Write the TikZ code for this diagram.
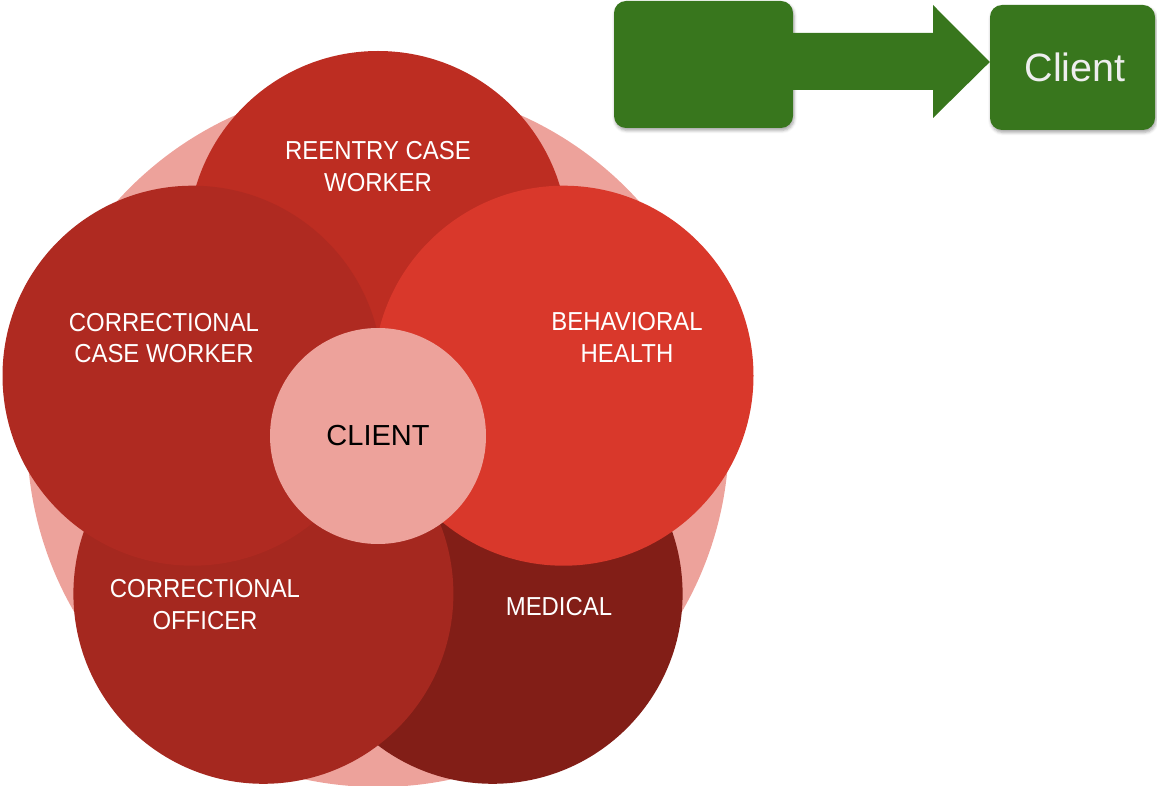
\documentclass[tikz,border=0pt]{standalone}
\usepackage{fontspec}
\setmainfont{Liberation Sans}
\newfontfamily\labelfont[FakeStretch=0.92]{Liberation Sans}
\usetikzlibrary{shadows.blur}
\definecolor{ringpink}{HTML}{EDA29B}
\definecolor{reentry}{HTML}{BD2D22}
\definecolor{ccw}{HTML}{AF2A21}
\definecolor{behav}{HTML}{D9382B}
\definecolor{officer}{HTML}{A5281F}
\definecolor{medical}{HTML}{821E17}
\definecolor{docgreen}{HTML}{38761D}
\definecolor{clienttext}{HTML}{EEEEEE}

\begin{document}
\begin{tikzpicture}[x=1pt,y=-1pt,
  disc/.style={circle, inner sep=0pt, minimum size=380pt, fill=#1},
  caption/.style={text=white, align=center, inner sep=0pt,
    font=\labelfont\fontsize{26}{31.5}\selectfont},
  greenbox/.style={fill=docgreen, rounded corners=12pt, inner sep=0pt,
    blur shadow={shadow xshift=1pt, shadow yshift=-2.5pt,
      shadow blur radius=3pt, shadow opacity=35}}]
\useasboundingbox (0,0) rectangle (1157,786);

% outer ring and the five overlapping discs
\node[circle, fill=ringpink, minimum size=702pt, inner sep=0pt] (ring) at (378,436) {};
\node[disc=reentry] (re) at (378,241) {};
\node[disc=medical] (med) at (492.6,593.8) {};
\node[disc=officer] (co) at (263.4,593.8) {};
\node[disc=ccw] (ccw) at (192.5,375.7) {};
\node[disc=behav] (bh) at (563.5,375.7) {};
\node[circle, fill=ringpink, minimum size=216pt, inner sep=0pt,
  font=\fontsize{29}{34}\selectfont] (client) at (378,436) {CLIENT};

% disc captions
\node[caption] (reT) at (378,166.7) {REENTRY CASE\\WORKER};
\node[caption] (ccwT) at (164,338) {CORRECTIONAL\\CASE WORKER};
\node[caption] (bhT) at (627,337.5) {BEHAVIORAL\\HEALTH};
\node[caption] (coT) at (205,604.5) {CORRECTIONAL\\OFFICER};
\node[caption] (medT) at (559,607) {MEDICAL};

% green flow at the top right
\node[greenbox, minimum width=179pt, minimum height=127pt] (src) at (703.5,64.5) {};
\node[greenbox, minimum width=165pt, minimum height=125pt, text=clienttext,
  font=\fontsize{39.5}{44}\selectfont] (dst) at (1072.5,67.5) {\hspace*{5pt}Client};
\coordinate (tip) at (dst.west |- 0,62);
\fill[docgreen] (src.east |- 0,33) -- (933,33) -- (933,5) -- (tip)
  -- (933,118) -- (933,90) -- (src.east |- 0,90) -- cycle;
\end{tikzpicture}
\end{document}
